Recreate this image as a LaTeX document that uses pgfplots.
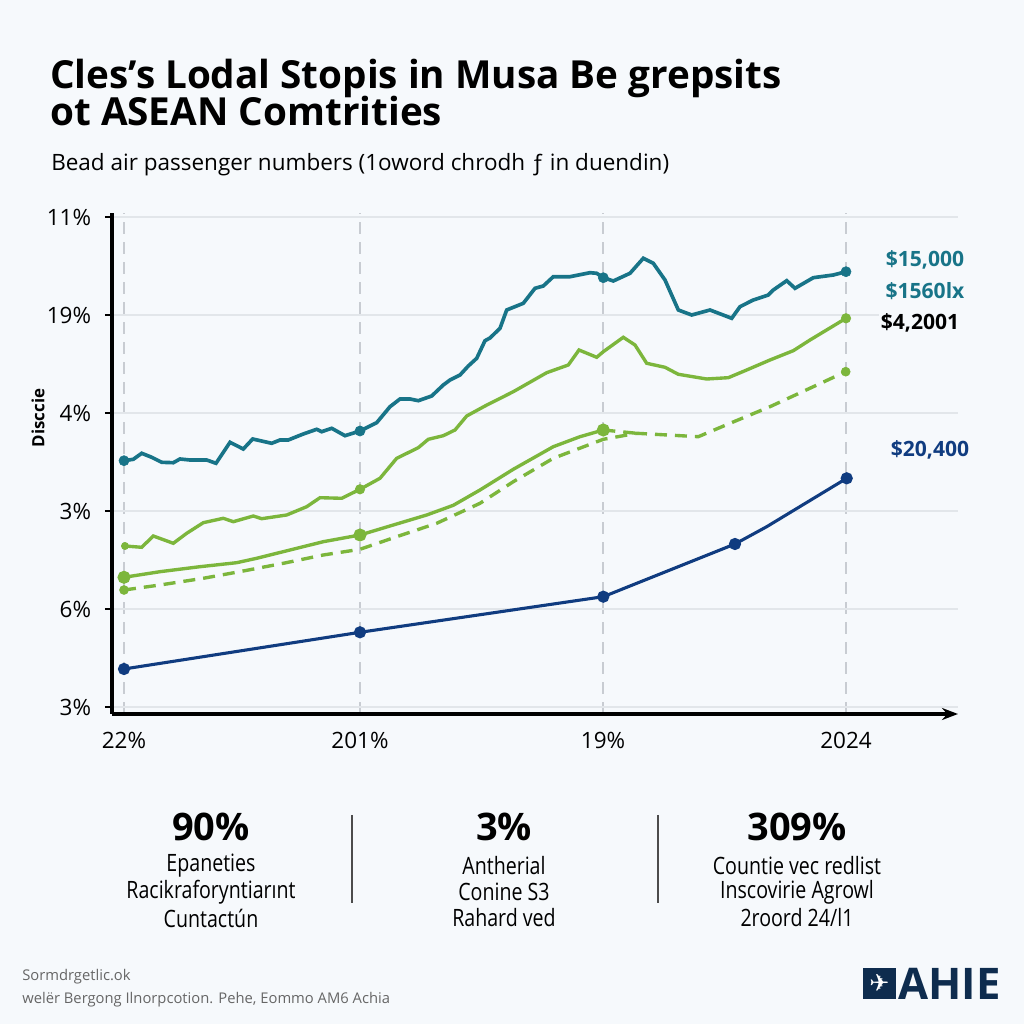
\documentclass[border=0pt]{standalone}
\usepackage{fontspec}
\setmainfont{Open Sans}
\newfontfamily\narrowfont[FakeStretch=0.82]{Open Sans}
\newfontfamily\symfont{DejaVu Sans}
\usepackage{pgfplots}
\pgfplotsset{compat=1.18}
\usetikzlibrary{arrows.meta}

\definecolor{bgc}{RGB}{246,249,252}
\definecolor{teal}{RGB}{24,116,136}
\definecolor{lime}{RGB}{124,182,60}
\definecolor{navy}{RGB}{16,60,128}
\definecolor{gridc}{RGB}{226,230,234}
\definecolor{dashc}{RGB}{200,204,210}
\definecolor{logoc}{RGB}{14,44,78}

\begin{document}
\begin{tikzpicture}
\fill[bgc] (0,0) rectangle (256mm,256mm);

\begin{axis}[
    at={(28mm,77.5mm)}, anchor=south west,
    scale only axis, width=211.5mm, height=125.25mm,
    xmin=112, xmax=958, ymin=-7, ymax=494,
    axis lines*=left,
    axis line style={line width=2.2pt, black},
    x axis line style={-{Stealth[length=4mm,width=3mm]}},
    xtick={124,360,603,846},
    xticklabels={22\%,201\%,19\%,2024},
    ytick={0,98,196,294,392,490},
    yticklabels={3\%,6\%,3\%,4\%,19\%,11\%},
    xtick style={draw=none},
    ytick style={line width=1.6pt, black},
    tick align=outside,
    major tick length=1.8mm,
    xticklabel style={font=\fontsize{16}{18}\selectfont, yshift=-1.6mm},
    yticklabel style={font=\fontsize{16}{18}\selectfont, xshift=-2.2mm},
    xmajorgrids, ymajorgrids,
    x grid style={dashc, line width=0.8pt, dash pattern=on 3mm off 2mm},
    y grid style={gridc, line width=0.8pt},
    clip=false,
]
% navy series
\addplot[navy, line width=2.2pt, mark=*, mark size=3.2pt, mark indices={1,2,3,4,6}] coordinates {
(124,38) (360,74.7) (603.3,110.3) (735,163) (766.7,180.3) (846.7,228.7)
};
% dashed green
\addplot[lime, line width=2.4pt, dash pattern=on 3mm off 2mm] coordinates {
(124,117) (160,122) (203.3,128.7) (243.3,136) (283.3,143.7) (323.3,152)
(360,157.7) (396.7,170.3) (436.7,183.7) (480,203.7) (513.3,225.3)
(553.3,248.7) (603.3,267.7) (636.7,273.7) (698.3,270.3) (730,283.7)
(770,300.3) (813.3,320.3) (845.7,335.3)
};
\addplot[lime, line width=2.4pt, dash pattern=on 3mm off 2mm] coordinates {
(603.3,277) (636.7,273.7)
};
\addplot[lime, only marks, mark=*, mark size=3.2pt] coordinates {
(124,117) (845.7,335.3)
};
% lower solid green
\addplot[lime, line width=2.4pt, mark=*, mark size=3.4pt,
    mark indices={1,8,16}] coordinates {
(124,129.7) (160,135.3) (200,140.3) (236.7,144.3) (256.7,148.7) (290,157)
(323.3,165.3) (360,172) (393.3,182) (426.7,192) (453.3,201.7) (480,217)
(513.3,237.7) (553.3,260.3) (580,270.3) (603.3,277)
};
% upper solid green
\addplot[lime, line width=2.4pt] coordinates {
(125,161) (141.7,159.7) (153.3,171) (173.3,163.7) (186.7,173.7) (203.3,184.3)
(223.3,188.7) (233.3,185.3) (253.3,191) (261.7,188.3) (286.7,192) (306.7,200.3)
(320,209.3) (341.7,208.7) (360,217.7) (380,228.7) (396.7,248.7) (418.3,259.3)
(428.3,267.7) (443.3,271.3) (455,277) (466.7,291) (485,301) (513.3,315.3)
(546.7,334.3) (568.3,342) (579,357) (596.7,349.7) (603.3,355.3) (623.3,369.7)
(635,362) (646.7,343.7) (665,339.7) (678.3,332.7) (706.7,328) (728.3,329.3)
(746.7,337) (770,347) (793.3,356.3) (810,367) (846,388.7)
};
\addplot[lime, only marks, mark=*, mark size=2.6pt] coordinates {(125,161)};
\addplot[lime, only marks, mark=*, mark size=3.4pt] coordinates {(360,217.7) (846,388.7)};
% teal series
\addplot[teal, line width=2.6pt] coordinates {
(124,246.3) (133.3,247.7) (141.7,253.7) (151.7,249.7) (161.7,244.7) (173.3,244.3)
(180,248) (190,247) (206.7,247) (216,243.7) (230,264.7) (243.3,258) (252.7,268)
(271.7,263.7) (280,267) (288.3,267) (303.3,273) (316.7,277.7) (321.7,275.3)
(331.7,278.7) (345,271.3) (360,276) (376.7,284.3) (390,300.3) (400,308)
(410,308) (418.3,306.3) (431.7,311) (443.3,322) (450,327) (460,332) (468.3,341)
(476.7,348.7) (485,366.3) (490,369) (500,378.7) (506.7,397) (523.3,403.7)
(535,418.7) (543.3,421) (553.3,430.3) (570,430.3) (590,434.3) (596.7,433.7)
(603.3,429.3) (613.3,426) (630,433.7) (643.3,448.7) (653.3,443.7) (665,427)
(678.3,397) (691.7,392) (710,397) (731.7,388.7) (740,400.3) (753.3,407)
(768.3,412) (773.3,417) (786.7,426.3) (795,418.7) (813.3,429.3) (833.3,432)
(846,435.3)
};
\addplot[teal, only marks, mark=*, mark size=3.6pt] coordinates {
(124,246.3) (360,276) (603.3,429.3) (846,435.3)
};
\end{axis}

\begin{scope}[shift={(0mm,256mm)}, x=0.25mm, y=-0.25mm]
% titles
\node[anchor=base west, inner sep=0] at (50,89)
  {\fontsize{27.5}{32}\selectfont\bfseries Cles’s Lodal Stopis in Musa Be grepsits};
\node[anchor=base west, inner sep=0] at (50,126)
  {\fontsize{27.5}{32}\selectfont\bfseries ot ASEAN Comtrities};
\node[anchor=base west, inner sep=0] at (51,171)
  {\fontsize{16}{18}\selectfont Bead air passenger numbers (1oword chrodh ƒ in duendin)};
% y label
\node[rotate=90, font=\fontsize{12}{14}\selectfont\bfseries] at (38,418) {Disccie};
% right labels
\node[font=\fontsize{15}{17}\selectfont\bfseries, text=teal] at (925,260) {\$15,000};
\node[font=\fontsize{15}{17}\selectfont\bfseries, text=teal] at (925,291) {\$1560lx};
\node[font=\fontsize{15}{17}\selectfont\bfseries, fill=bgc, inner sep=1pt] at (920,323) {\$4,2001};
\node[font=\fontsize{15}{17}\selectfont\bfseries, text=navy] at (930,450) {\$20,400};
% stats
\foreach \cx/\big/\la/\lb/\lc in {
   211/{90\%}/{Epaneties}/{Racikraforyntiarınt}/{Cuntactún},
   504/{3\%}/{Antherial}/{Conine S3}/{Rahard ved},
   797/{309\%}/{Countie vec redlist}/{Inscovirie Agrowl}/{2roord 24/l1}}{
  \node[font=\fontsize{27}{30}\selectfont\bfseries] at (\cx,827) {\big};
  \node[font=\narrowfont\fontsize{17}{20}\selectfont] at (\cx,866) {\la};
  \node[font=\narrowfont\fontsize{17}{20}\selectfont] at (\cx,892) {\lb};
  \node[font=\narrowfont\fontsize{17}{20}\selectfont] at (\cx,918) {\lc};
}
\draw[black!70, line width=0.8pt] (352,815) -- (352,903);
\draw[black!70, line width=0.8pt] (658,815) -- (658,903);
% footer
\node[anchor=west, inner sep=0, text=black!60, font=\fontsize{10.5}{12}\selectfont] at (22,977) {Sormdrgetlic.ok};
\node[anchor=west, inner sep=0, text=black!60, font=\fontsize{10.5}{12}\selectfont] at (22,1000) {welër Bergong Ilnorpcotion. Pehe, Eommo AM6 Achia};
% logo
\fill[logoc] (863,968) rectangle (896,999);
\node[text=white, font=\symfont\fontsize{17}{18}\selectfont] at (879.5,983.5) {✈};
\node[anchor=west, inner sep=0, text=logoc, font=\fontsize{31}{32}\selectfont\bfseries] at (898,984) {AHIE};
\end{scope}
\end{tikzpicture}
\end{document}
